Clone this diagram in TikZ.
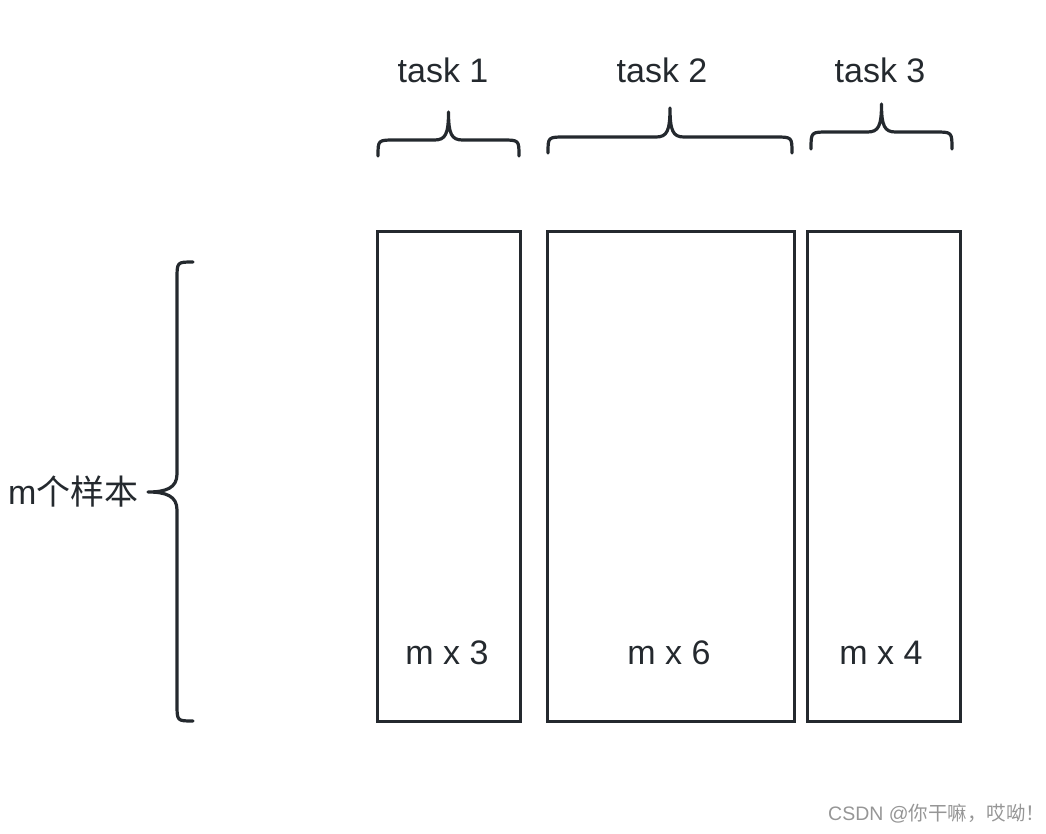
\documentclass[tikz,border=0pt]{standalone}
\usepackage{fontspec}
\setmainfont{Liberation Sans}
\newfontfamily\cjk{Noto Sans CJK SC}
\definecolor{ink}{RGB}{36,41,46}
\definecolor{wm}{RGB}{150,150,150}
\newcommand{\topbrace}[5]{% x1 x2 ybottom yhoriz ytip
  \pgfmathsetmacro{\xm}{(#1+#2)/2}
  \draw[brace] (#1,#3) .. controls (#1,#4) .. (#1+17,#4) -- (\xm-14,#4)
    .. controls (\xm-3,#4) and (\xm,#4-6) .. (\xm,#5)
    .. controls (\xm,#4-6) and (\xm+3,#4) .. (\xm+14,#4) -- (#2-17,#4)
    .. controls (#2,#4) .. (#2,#3);}
\begin{document}
\begin{tikzpicture}[x=1pt,y=-1pt,
  brace/.style={draw=ink,line width=3.2pt,line cap=round,line join=round},
  col/.style={draw=ink,line width=3pt,inner sep=0pt},
  lbl/.style={text=ink,font=\fontsize{34}{40}\selectfont,inner sep=0pt}]
\useasboundingbox (0,0) rectangle (1046,834);
% columns
\node[col,minimum width=143pt,minimum height=489pt] (c1) at (448.5,476.5) {};
\node[col,minimum width=247pt,minimum height=489pt] (c2) at (670.5,476.5) {};
\node[col,minimum width=153pt,minimum height=489pt] (c3) at (883.5,476.5) {};
\node[lbl] (d1) at (447,653) {m x 3};
\node[lbl] (d2) at (669,653) {m x 6};
\node[lbl] (d3) at (881,653) {m x 4};
% top braces
\topbrace{378}{519}{156}{140}{112}
\topbrace{548}{792}{153}{137}{108}
\topbrace{811}{952}{149}{132}{104}
\node[lbl] (t1) at (443,70) {task 1};
\node[lbl] (t2) at (662,70) {task 2};
\node[lbl] (t3) at (880,70) {task 3};
% left brace
\draw[brace] (193,262) .. controls (177,262) .. (177,279) -- (177,474)
  .. controls (177,488) and (166,492) .. (148,492)
  .. controls (166,492) and (177,496) .. (177,510) -- (177,704)
  .. controls (177,721) .. (193,721);
\node[lbl,anchor=west] (m) at (8,492) {m{\cjk 个样本}};
% watermark
\node[text=wm,font=\fontsize{19.5}{22}\selectfont,anchor=west,inner sep=0pt] (w) at (828,814) {CSDN @{\cjk 你干嘛，哎呦！}};
\end{tikzpicture}
\end{document}
